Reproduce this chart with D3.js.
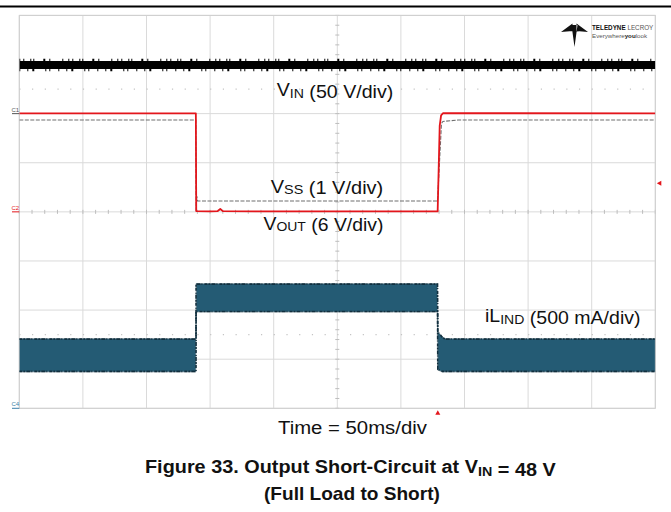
<!DOCTYPE html>
<html>
<head>
<meta charset="utf-8">
<script src="https://cdn.jsdelivr.net/npm/d3@7"></script>
<style>
  body { margin: 0; background: #fff; }
  svg { display: block; font-family: "Liberation Sans", Arial, sans-serif; }
</style>
</head>
<body>
<svg id="chart" width="671" height="512"></svg>
<script>
// time base: 10 div x 50 ms
const timeTicks = d3.range(0, 501, 50);
const divTicks = d3.range(-4, 5, 1);

// VIN (50 V/div) - noisy band, min / max envelope
const vinTime = [0, 500];
const vinHigh = [53.5, 53.5];
const vinLow = [45.5, 45.5];

// VOUT (6 V/div)
const voutTime = [0, 138.8, 139.1, 150, 156, 158, 160, 200, 328.9, 330.5, 331.6, 333.2, 500];
const voutVolts = [12.03, 12.03, 0.1, 0.05, 0.1, 0.35, 0.08, 0.05, 0.05, 10.5, 11.8, 12.05, 12.03];

// VSS (1 V/div)
const vssTime = [0, 138.8, 139.0, 139.5, 140.2, 328.8, 331.9, 333, 345, 500];
const vssVolts = [1.87, 1.87, 0.02, 0.32, 0.22, 0.22, 1.8, 1.84, 1.87, 1.87];

// iL IND (500 mA/div) - switching ripple envelope
const ilTime = [0, 138.9, 139.0, 328.8, 329.0, 330.7, 332.5, 334.7, 500];
const ilHigh = [0.71, 0.71, 1.27, 1.27, 0.78, 0.76, 0.73, 0.71, 0.71];
const ilLow = [0.37, 0.37, 0.98, 0.98, 0.39, 0.38, 0.37, 0.37, 0.37];

const triggerTime = 329;
const triggerLevel = 3.5; // on VOUT

const frame = { left: 19.3, right: 655.3, top: 15.4, bottom: 408.3 };

const x = d3.scaleLinear().domain([0, 500]).range([frame.left, frame.right]);
const yDiv = d3.scaleLinear().domain([-4, 4]).range([frame.bottom, frame.top]);
// channel scale from volts/div and ground offset (in div)
const chScale = (perDiv, offset) =>
  d3.scaleLinear()
    .domain([(-4 - offset) * perDiv, (4 - offset) * perDiv])
    .range([frame.bottom, frame.top]);

const yVin = chScale(50, 2);
const yVout = chScale(6, 0);
const yVss = chScale(1, 0);
const yIl = chScale(0.5, -4);

const svg = d3.select("#chart");
svg.append("rect").attr("width", 671).attr("height", 512).attr("fill", "#fff");

// top rule
svg.append("line")
  .attr("x1", 0).attr("x2", 671).attr("y1", 6.5).attr("y2", 6.5)
  .attr("stroke", "#000").attr("stroke-width", 2);

// grid
const grid = svg.append("g").attr("stroke", "#dadada").attr("stroke-width", 1);
grid.selectAll(".gv").data(timeTicks).join("line")
  .attr("x1", d => x(d)).attr("x2", d => x(d))
  .attr("y1", frame.top).attr("y2", frame.bottom);
grid.selectAll(".gh").data(divTicks).join("line")
  .attr("x1", frame.left).attr("x2", frame.right)
  .attr("y1", d => yDiv(d)).attr("y2", d => yDiv(d));

// minor ticks on centre axes
const ticks = svg.append("g").attr("stroke", "#bdbdbd").attr("stroke-width", 1);
ticks.selectAll(".tv").data(d3.range(-4, 4.01, 0.2)).join("line")
  .attr("x1", x(250) - 2).attr("x2", x(250) + 2)
  .attr("y1", d => yDiv(d)).attr("y2", d => yDiv(d));
ticks.selectAll(".th").data(d3.range(0, 500.1, 10)).join("line")
  .attr("x1", d => x(d)).attr("x2", d => x(d))
  .attr("y1", yDiv(0) - 2).attr("y2", yDiv(0) + 2);

// faint half-division dot rows
svg.append("g").selectAll("line").data([2.5, -2.5]).join("line")
  .attr("x1", frame.left).attr("x2", frame.right)
  .attr("y1", d => yDiv(d)).attr("y2", d => yDiv(d))
  .attr("stroke", "#c4c4c4").attr("stroke-width", 1.2)
  .attr("stroke-dasharray", "1.2,11.52");

// frame
svg.append("rect")
  .attr("x", frame.left).attr("y", frame.top)
  .attr("width", frame.right - frame.left).attr("height", frame.bottom - frame.top)
  .attr("fill", "none").attr("stroke", "#cfcfcf");

svg.append("clipPath").attr("id", "clip").append("rect")
  .attr("x", frame.left).attr("y", frame.top - 10)
  .attr("width", frame.right - frame.left).attr("height", frame.bottom - frame.top + 10);

const traces = svg.append("g").attr("clip-path", "url(#clip)");

// VIN band
const vinPts = vinTime.map((t, i) => ({ t, hi: vinHigh[i], lo: vinLow[i] }));
traces.append("path").datum(vinPts)
  .attr("fill", "#000")
  .attr("d", d3.area().x(d => x(d.t)).y0(d => yVin(d.lo)).y1(d => yVin(d.hi)));
traces.append("path").datum(vinPts)
  .attr("fill", "none").attr("stroke", "#000").attr("stroke-width", 2.4)
  .attr("stroke-dasharray", "1,3,1,6,1,2,1,9,2,4,1,12,1,5")
  .attr("transform", "translate(0,-1.2)")
  .attr("d", d3.line().x(d => x(d.t)).y(d => yVin(d.hi)));
traces.append("path").datum(vinPts)
  .attr("fill", "none").attr("stroke", "#000").attr("stroke-width", 2.4)
  .attr("stroke-dasharray", "1,7,1,4,2,11,1,3,1,8")
  .attr("transform", "translate(0,1.2)")
  .attr("d", d3.line().x(d => x(d.t)).y(d => yVin(d.lo)));

// iL band
const ilPts = ilTime.map((t, i) => ({ t, hi: ilHigh[i], lo: ilLow[i] }));
traces.append("path").datum(ilPts)
  .attr("fill", "#245b74").attr("stroke", "#9aa7ad").attr("stroke-width", 0.8)
  .attr("d", d3.area().x(d => x(d.t)).y0(d => yIl(d.lo)).y1(d => yIl(d.hi)));
["hi", "lo"].forEach(k => {
  traces.append("path").datum(ilPts)
    .attr("fill", "none").attr("stroke", "#12303f").attr("stroke-width", 1.6)
    .attr("stroke-dasharray", "3,1,2,1,4,1,1,2")
    .attr("d", d3.line().x(d => x(d.t)).y(d => yIl(d[k]) + (k === "hi" ? 0.6 : -0.6)));
});

// VSS
traces.append("path").datum(vssTime.map((t, i) => [t, vssVolts[i]]))
  .attr("fill", "none").attr("stroke", "#6f6f6f").attr("stroke-width", 1.1)
  .attr("stroke-dasharray", "4,1.5")
  .attr("d", d3.line().x(d => x(d[0])).y(d => yVss(d[1])));

// VOUT
traces.append("path").datum(voutTime.map((t, i) => [t, voutVolts[i]]))
  .attr("fill", "none").attr("stroke", "#e3161c").attr("stroke-width", 1.8)
  .attr("stroke-linejoin", "round")
  .attr("d", d3.line().x(d => x(d[0])).y(d => yVout(d[1])));

// trigger markers
const tx = x(triggerTime);
svg.append("path")
  .attr("d", `M${tx},${frame.bottom + 2} l2.5,4.5 h-5 Z`)
  .attr("fill", "#e3161c");
const ty = yVout(triggerLevel);
svg.append("path")
  .attr("d", `M${frame.right + 1.5},${ty} l4.5,-2.5 v5 Z`)
  .attr("fill", "#e3161c");

// channel ground markers
const markers = [
  { name: "C1", y: yVin(0), color: "#555" },
  { name: "C2", y: yVout(0), color: "#e3161c" },
  { name: "C4", y: yIl(0), color: "#3d7fa8" }
];
const mk = svg.append("g");
mk.selectAll("text").data(markers).join("text")
  .attr("x", 11.5).attr("y", d => d.y - 2)
  .attr("font-size", 6).attr("fill", d => d.color)
  .text(d => d.name);
mk.selectAll("line").data(markers).join("line")
  .attr("x1", 12).attr("x2", frame.left).attr("y1", d => d.y).attr("y2", d => d.y)
  .attr("stroke", d => d.color).attr("stroke-width", 1);

// labels, stretched to the widths seen on the scope capture
function label(x0, y0, width, parts, size, weight, subDy) {
  const t = svg.append("text")
    .attr("font-size", size).attr("font-weight", weight || "normal").attr("fill", "#111");
  parts.forEach(([s, sub]) => {
    t.append("tspan")
      .attr("font-size", sub ? size * 0.72 : size)
      .attr("dy", sub ? subDy : 0)
      .text(s);
    if (sub) t.append("tspan").attr("dy", -subDy).text("");
  });
  const w = t.node().getComputedTextLength();
  t.attr("transform", `translate(${x0},${y0}) scale(${width / w},1)`);
  return t;
}

label(276.7, 96, 116.6, [["V"], ["IN", true], [" (50 V/div)"]], 18, null, 1.5);
label(270.7, 192.7, 112.6, [["V"], ["SS", true], [" (1 V/div)"]], 18, null, 1.5);
label(263.5, 229.5, 120, [["V"], ["OUT", true], [" (6 V/div)"]], 18, null, 1.5);
label(485, 322, 155.7, [["iL"], ["IND", true], [" (500 mA/div)"]], 18, null, 1.5);
label(278, 434, 149, [["Time = 50ms/div"]], 18, null, 0);
label(145, 473, 411, [["Figure 33. Output Short-Circuit at V"], ["IN", true], [" = 48 V"]], 19, "bold", 3);
label(264, 500, 176, [["(Full Load to Short)"]], 19, "bold", 0);

// Teledyne LeCroy logo
const logo = svg.append("g").attr("fill", "#111");
logo.append("path")
  .attr("d",
    "M561,32 L572.5,23.5 L572.5,31 Z " +
    "M588,32 L576.5,23.5 L576.5,31 Z " +
    "M571.5,25 L577.5,25 L574.5,47 Z");
const brand = logo.append("text").attr("x", 592).attr("y", 30.2)
  .attr("font-size", 6.3).attr("font-weight", "bold").text("TELEDYNE");
logo.append("text")
  .attr("x", 592 + brand.node().getComputedTextLength() + 1.8).attr("y", 30.2)
  .attr("font-size", 6.3).attr("fill", "#555").text("LECROY");
const tag = logo.append("text").attr("x", 592).attr("y", 38.2).attr("font-size", 6.2).attr("fill", "#555");
tag.append("tspan").text("Everywhere");
tag.append("tspan").attr("font-weight", "bold").attr("fill", "#222").text("you");
tag.append("tspan").text("look");
</script>
</body>
</html>
